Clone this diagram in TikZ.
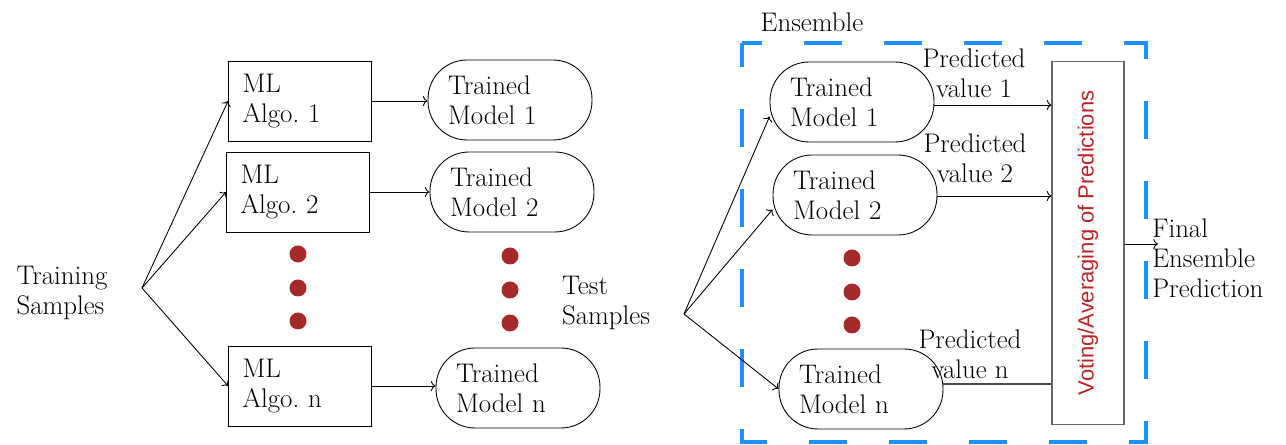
\documentclass[tikz,border=0pt]{standalone}
\usepackage{fontspec}
\newfontfamily\votefont{Liberation Sans}
\usetikzlibrary{shapes.geometric, arrows.meta, positioning}
\usepackage{xcolor}
\definecolor{dotred}{RGB}{165,42,42}
\definecolor{ensblue}{RGB}{30,144,255}
\definecolor{votered}{RGB}{190,35,35}
\frenchspacing

\begin{document}
\begin{tikzpicture}[x=0.02cm, y=-0.02cm, >=To,
  every node/.style={font=\fontsize{15.3}{17}\selectfont},
  algobox/.style={rectangle, draw, line width=0.5pt, text width=2.3cm, inner xsep=0.28cm, minimum height=1.6cm, align=left},
  modelbox/.style={rectangle, draw, rounded corners=0.78cm, line width=0.5pt, text width=2.48cm, inner xsep=0.4cm, minimum height=1.6cm, align=left},
  dotmark/.style={circle, fill=dotred, inner sep=0pt, minimum size=0.34cm},
  conn/.style={->, line width=0.5pt}]
  \useasboundingbox (0,0) rectangle (1286,445);
  % Training side
  \node[align=left] (train) at (62,293) {Training\\Samples};
  \coordinate (tr) at (142,288);
  \node[algobox] (algo1) at (300,101) {ML\\Algo. 1};
  \node[algobox] (algo2) at (298,192) {ML\\Algo. 2};
  \node[algobox] (algon) at (300,386) {ML\\Algo. n};
  \node[modelbox] (mod1) at (510,100) {Trained\\Model 1};
  \node[modelbox] (mod2) at (512,192) {Trained\\Model 2};
  \node[modelbox] (modn) at (518,388) {Trained\\Model n};
  \foreach \i in {1,2,n} {
    \draw[conn] (tr) -- (algo\i.west);
    \draw[conn] (algo\i.east) -- (mod\i.west |- algo\i.east);
  }
  % Dots
  \foreach \y [count=\k] in {254,288,321} {
    \node[dotmark] (dl\k) at (298,\y) {};
    \node[dotmark] (dm\k) at (510,\y+2) {};
    \node[dotmark] (dr\k) at (852,\y+4) {};
  }
  % Test side
  \node[align=left] (test) at (606,303) {Test\\Samples};
  \coordinate (te) at (684,314);
  \draw[ensblue, line width=0.08cm, dash pattern=on 0.76cm off 0.84cm, dash phase=0.36cm]
    (742,43) -- (1146,43) -- (1146,442) -- (742,442) -- cycle;
  \node (ens) at (812,22) {Ensemble};
  \node[modelbox] (rm1) at (852,102) {Trained\\Model 1};
  \node[modelbox] (rm2) at (855,195) {Trained\\Model 2};
  \node[modelbox] (rmn) at (861,389) {Trained\\Model n};
  \draw[conn] (te) -- (rm1.190);
  \draw[conn] (te) -- (rm2.190);
  \draw[conn] (te) -- (rmn.west);
  % Voting
  \node[rectangle, draw=gray!80!black, line width=0.6pt, rotate=90, minimum width=7.26cm, minimum height=1.44cm,
        text=votered, font=\votefont\fontsize{12.5}{14}\selectfont] (vote) at (1088,243) {Voting/Averaging of Predictions};
  \node[align=center] (pv1) at (974,73) {Predicted\\value 1};
  \node[align=center] (pv2) at (975,158) {Predicted\\value 2};
  \node[align=center] (pvn) at (970,354) {Predicted\\value n};
  \draw[conn] (rm1.east |- 0,105) -- (vote.north |- 0,105);
  \draw[conn] (rm2.east |- 0,196) -- (vote.north |- 0,196);
  \draw[line width=0.6pt, gray!60!black] (rmn.east |- 0,384) -- (vote.north |- 0,384);
  \node[align=left, anchor=west, inner sep=0pt] (final) at (1152,258) {Final\\Ensemble\\Prediction};
  \draw[conn] (vote.south |- 0,244) -- (1158,244);
\end{tikzpicture}
\end{document}
